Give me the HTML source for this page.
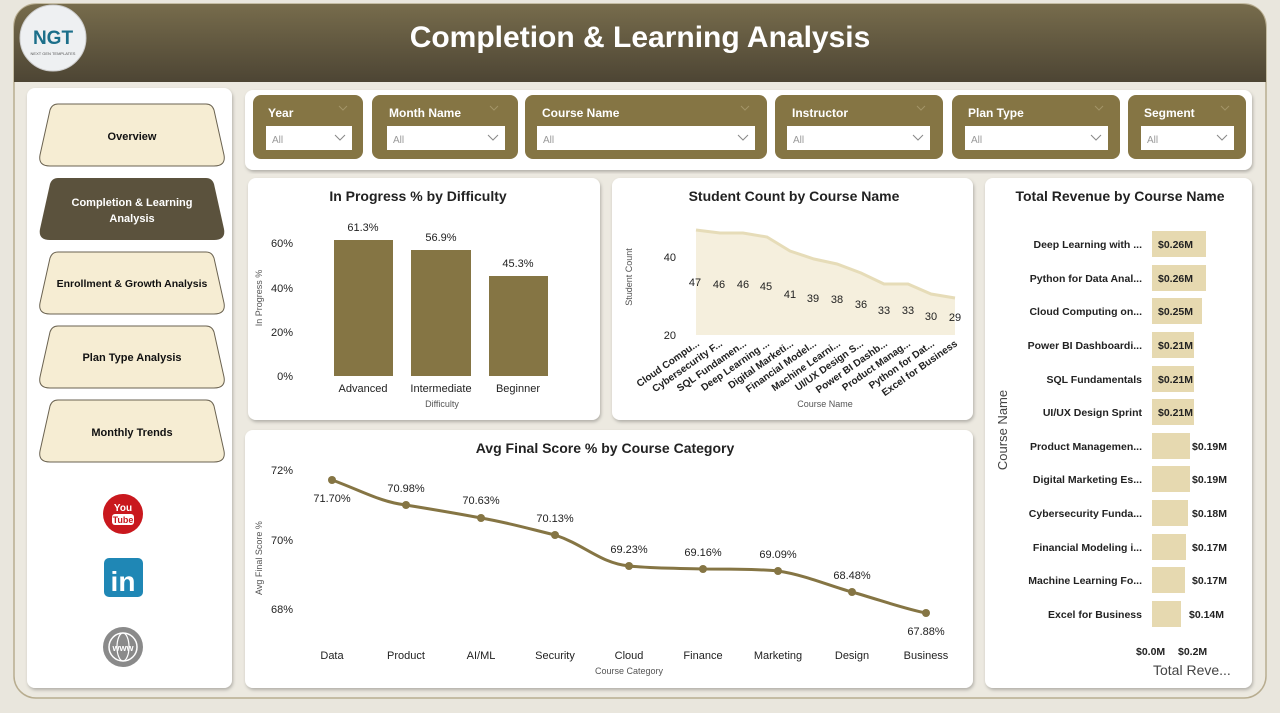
<!DOCTYPE html>
<html><head><meta charset="utf-8"><style>
body{margin:0;background:#e9e6dd;font-family:"Liberation Sans",sans-serif;}
svg text{font-family:"Liberation Sans",sans-serif;}
</style></head><body>
<svg width="1280" height="708" viewBox="0 0 1280 708" xmlns="http://www.w3.org/2000/svg">
<defs>
<linearGradient id="hg" x1="0" y1="0" x2="0" y2="1"><stop offset="0" stop-color="#776c4c"/><stop offset="1" stop-color="#4d4534"/></linearGradient>
<filter id="sh" x="-5%" y="-5%" width="110%" height="110%"><feDropShadow dx="1" dy="2" stdDeviation="1.5" flood-color="#000" flood-opacity="0.25"/></filter>
</defs>
<rect width="1280" height="708" fill="#e9e6dd"/>
<rect x="14" y="4" width="1252" height="694" rx="22" fill="#ece9e0" stroke="#b8ad90" stroke-width="1.5"/>
<path d="M14 30 Q14 4 40 4 H1240 Q1266 4 1266 30 V82 H14Z" fill="url(#hg)"/>
<text x="640" y="47" text-anchor="middle" font-size="30" font-weight="bold" fill="#fff">Completion &amp; Learning Analysis</text>
<circle cx="53" cy="38" r="33" fill="#eef0f2" stroke="#ccc"/>
<text x="53" y="44" text-anchor="middle" font-size="19" font-weight="bold" fill="#1c6f8a">NGT</text>
<text x="53" y="55" text-anchor="middle" font-size="4" fill="#555">NEXT GEN TEMPLATES</text>

<!-- sidebar -->
<rect x="27" y="88" width="205" height="600" rx="8" fill="#fff" filter="url(#sh)"/>
<g font-size="11" font-weight="bold" text-anchor="middle">
<path d="M58 104 H206 Q212 104 214 110 L224 155 Q226 166 214 166 H50 Q38 166 40 155 L50 110 Q52 104 58 104Z" fill="#f6edd3" stroke="#6a6250"/>
<text x="132" y="140" fill="#111">Overview</text>
<path d="M58 178 H206 Q212 178 214 184 L224 229 Q226 240 214 240 H50 Q38 240 40 229 L50 184 Q52 178 58 178Z" fill="#5b523d"/>
<text x="132" y="206" fill="#fff">Completion &amp; Learning</text>
<text x="132" y="222" fill="#fff">Analysis</text>
<path d="M58 252 H206 Q212 252 214 258 L224 303 Q226 314 214 314 H50 Q38 314 40 303 L50 258 Q52 252 58 252Z" fill="#f6edd3" stroke="#6a6250"/>
<text x="132" y="287" fill="#111" font-size="10.5">Enrollment &amp; Growth Analysis</text>
<path d="M58 326 H206 Q212 326 214 332 L224 377 Q226 388 214 388 H50 Q38 388 40 377 L50 332 Q52 326 58 326Z" fill="#f6edd3" stroke="#6a6250"/>
<text x="132" y="361" fill="#111">Plan Type Analysis</text>
<path d="M58 400 H206 Q212 400 214 406 L224 451 Q226 462 214 462 H50 Q38 462 40 451 L50 406 Q52 400 58 400Z" fill="#f6edd3" stroke="#6a6250"/>
<text x="132" y="436" fill="#111">Monthly Trends</text>
</g>
<circle cx="123" cy="514" r="20" fill="#c9181e"/>
<text x="123" y="511" text-anchor="middle" font-size="10" font-weight="bold" fill="#fff">You</text>
<rect x="112" y="514" width="22" height="11" rx="3" fill="#fff"/>
<text x="123" y="523" text-anchor="middle" font-size="9" font-weight="bold" fill="#c9181e">Tube</text>
<rect x="104" y="558" width="39" height="39" rx="5" fill="#1f87b5"/>
<text x="123" y="591" text-anchor="middle" font-size="28" font-weight="bold" fill="#fff">in</text>
<circle cx="123" cy="647" r="20" fill="#8a8a8a"/>
<circle cx="123" cy="647" r="14" fill="none" stroke="#fff" stroke-width="1.5"/>
<ellipse cx="123" cy="647" rx="6" ry="14" fill="none" stroke="#fff" stroke-width="1.2"/>
<text x="123" y="651" text-anchor="middle" font-size="9" font-weight="bold" fill="#fff">www</text>

<!-- filter panel -->
<rect x="245" y="90" width="1007" height="80" rx="8" fill="#fff" filter="url(#sh)"/>
<g font-size="12" font-weight="bold">
<g><rect x="253" y="95" width="110" height="64" rx="8" fill="#857544"/><text x="268" y="117" fill="#fff">Year</text><rect x="266" y="126" width="86" height="24" fill="#fff"/><text x="272" y="143" font-size="10" font-weight="normal" fill="#999">All</text></g>
<g><rect x="372" y="95" width="146" height="64" rx="8" fill="#857544"/><text x="389" y="117" fill="#fff">Month Name</text><rect x="387" y="126" width="118" height="24" fill="#fff"/><text x="393" y="143" font-size="10" font-weight="normal" fill="#999">All</text></g>
<g><rect x="525" y="95" width="242" height="64" rx="8" fill="#857544"/><text x="542" y="117" fill="#fff">Course Name</text><rect x="537" y="126" width="218" height="24" fill="#fff"/><text x="543" y="143" font-size="10" font-weight="normal" fill="#999">All</text></g>
<g><rect x="775" y="95" width="168" height="64" rx="8" fill="#857544"/><text x="792" y="117" fill="#fff">Instructor</text><rect x="787" y="126" width="143" height="24" fill="#fff"/><text x="793" y="143" font-size="10" font-weight="normal" fill="#999">All</text></g>
<g><rect x="952" y="95" width="168" height="64" rx="8" fill="#857544"/><text x="968" y="117" fill="#fff">Plan Type</text><rect x="965" y="126" width="143" height="24" fill="#fff"/><text x="971" y="143" font-size="10" font-weight="normal" fill="#999">All</text></g>
<g><rect x="1128" y="95" width="118" height="64" rx="8" fill="#857544"/><text x="1144" y="117" fill="#fff">Segment</text><rect x="1141" y="126" width="93" height="24" fill="#fff"/><text x="1147" y="143" font-size="10" font-weight="normal" fill="#999">All</text></g>
</g>
<g fill="none" stroke="#888" stroke-width="1">
<path d="M335 135 l5 5 l5 -5"/><path d="M488 135 l5 5 l5 -5"/><path d="M738 135 l5 5 l5 -5"/><path d="M913 135 l5 5 l5 -5"/><path d="M1091 135 l5 5 l5 -5"/><path d="M1217 135 l5 5 l5 -5"/>
</g>
<g fill="none" stroke="#a39468" stroke-width="1">
<path d="M339 106 l4 4 l4 -4"/><path d="M490 106 l4 4 l4 -4"/><path d="M741 106 l4 4 l4 -4"/><path d="M917 106 l4 4 l4 -4"/><path d="M1095 106 l4 4 l4 -4"/><path d="M1221 106 l4 4 l4 -4"/>
</g>

<!-- chart 1 -->
<rect x="248" y="178" width="352" height="242" rx="8" fill="#fff" filter="url(#sh)"/>
<text x="418" y="201" text-anchor="middle" font-size="14" font-weight="bold" fill="#222">In Progress % by Difficulty</text>
<g font-size="11" fill="#222" text-anchor="end"><text x="293" y="247">60%</text><text x="293" y="292">40%</text><text x="293" y="336">20%</text><text x="293" y="380">0%</text></g>
<text transform="translate(262,298) rotate(-90)" text-anchor="middle" font-size="9" fill="#555">In Progress %</text>
<rect x="334" y="240" width="59" height="136" fill="#857544"/>
<rect x="411" y="250" width="60" height="126" fill="#857544"/>
<rect x="489" y="276" width="59" height="100" fill="#857544"/>
<g font-size="11" fill="#222" text-anchor="middle"><text x="363" y="231">61.3%</text><text x="441" y="241">56.9%</text><text x="518" y="267">45.3%</text>
<text x="363" y="392">Advanced</text><text x="441" y="392">Intermediate</text><text x="518" y="392">Beginner</text></g>
<text x="442" y="407" text-anchor="middle" font-size="9" fill="#555">Difficulty</text>

<!-- chart 2 -->
<rect x="612" y="178" width="361" height="242" rx="8" fill="#fff" filter="url(#sh)"/>
<text x="794" y="201" text-anchor="middle" font-size="14" font-weight="bold" fill="#222">Student Count by Course Name</text>
<path d="M696 230 L720 233 L743 233 L767 237 L790 251 L814 259 L837 264 L861 273 L884 284 L908 284 L931 294 L955 298 L955 335 L696 335Z" fill="#f5efdd"/>
<path d="M696 230 L720 233 L743 233 L767 237 L790 251 L814 259 L837 264 L861 273 L884 284 L908 284 L931 294 L955 298" fill="none" stroke="#e6dcb8" stroke-width="3"/>
<g font-size="11" fill="#222" text-anchor="end"><text x="676" y="261">40</text><text x="676" y="339">20</text></g>
<text transform="translate(632,277) rotate(-90)" text-anchor="middle" font-size="9" fill="#555">Student Count</text>
<g font-size="11" fill="#222" text-anchor="middle"><text x="695" y="286">47</text><text x="719" y="288">46</text><text x="743" y="288">46</text><text x="766" y="290">45</text><text x="790" y="298">41</text><text x="813" y="302">39</text><text x="837" y="303">38</text><text x="861" y="308">36</text><text x="884" y="314">33</text><text x="908" y="314">33</text><text x="931" y="320">30</text><text x="955" y="321">29</text></g>
<g font-size="10" font-weight="bold" fill="#222" text-anchor="end">
<text transform="translate(700,345) rotate(-35)">Cloud Compu...</text>
<text transform="translate(723,345) rotate(-35)">Cybersecurity F...</text>
<text transform="translate(747,345) rotate(-35)">SQL Fundamen...</text>
<text transform="translate(770,345) rotate(-35)">Deep Learning ...</text>
<text transform="translate(794,345) rotate(-35)">Digital Marketi...</text>
<text transform="translate(817,345) rotate(-35)">Financial Model...</text>
<text transform="translate(841,345) rotate(-35)">Machine Learni...</text>
<text transform="translate(864,345) rotate(-35)">UI/UX Design S...</text>
<text transform="translate(888,345) rotate(-35)">Power BI Dashb...</text>
<text transform="translate(911,345) rotate(-35)">Product Manag...</text>
<text transform="translate(935,345) rotate(-35)">Python for Dat...</text>
<text transform="translate(958,345) rotate(-35)">Excel for Business</text>
</g>
<text x="825" y="407" text-anchor="middle" font-size="9" fill="#555">Course Name</text>

<!-- chart 3 revenue -->
<rect x="985" y="178" width="267" height="510" rx="8" fill="#fff" filter="url(#sh)"/>
<text x="1120" y="201" text-anchor="middle" font-size="14" font-weight="bold" fill="#222">Total Revenue by Course Name</text>
<text transform="translate(1007,430) rotate(-90)" text-anchor="middle" font-size="13" fill="#444">Course Name</text>
<g font-size="10.5" font-weight="bold" fill="#222">
<rect x="1152" y="231" width="54" height="26" fill="#e6d9b0"/><text x="1142" y="248" text-anchor="end">Deep Learning with ...</text><text x="1158" y="248">$0.26M</text>
<rect x="1152" y="265" width="54" height="26" fill="#e6d9b0"/><text x="1142" y="282" text-anchor="end">Python for Data Anal...</text><text x="1158" y="282">$0.26M</text>
<rect x="1152" y="298" width="50" height="26" fill="#e6d9b0"/><text x="1142" y="315" text-anchor="end">Cloud Computing on...</text><text x="1158" y="315">$0.25M</text>
<rect x="1152" y="332" width="42" height="26" fill="#e6d9b0"/><text x="1142" y="349" text-anchor="end">Power BI Dashboardi...</text><text x="1158" y="349">$0.21M</text>
<rect x="1152" y="366" width="42" height="26" fill="#e6d9b0"/><text x="1142" y="383" text-anchor="end">SQL Fundamentals</text><text x="1158" y="383">$0.21M</text>
<rect x="1152" y="399" width="42" height="26" fill="#e6d9b0"/><text x="1142" y="416" text-anchor="end">UI/UX Design Sprint</text><text x="1158" y="416">$0.21M</text>
<rect x="1152" y="433" width="38" height="26" fill="#e6d9b0"/><text x="1142" y="450" text-anchor="end">Product Managemen...</text><text x="1192" y="450">$0.19M</text>
<rect x="1152" y="466" width="38" height="26" fill="#e6d9b0"/><text x="1142" y="483" text-anchor="end">Digital Marketing Es...</text><text x="1192" y="483">$0.19M</text>
<rect x="1152" y="500" width="36" height="26" fill="#e6d9b0"/><text x="1142" y="517" text-anchor="end">Cybersecurity Funda...</text><text x="1192" y="517">$0.18M</text>
<rect x="1152" y="534" width="34" height="26" fill="#e6d9b0"/><text x="1142" y="551" text-anchor="end">Financial Modeling i...</text><text x="1192" y="551">$0.17M</text>
<rect x="1152" y="567" width="33" height="26" fill="#e6d9b0"/><text x="1142" y="584" text-anchor="end">Machine Learning Fo...</text><text x="1192" y="584">$0.17M</text>
<rect x="1152" y="601" width="29" height="26" fill="#e6d9b0"/><text x="1142" y="618" text-anchor="end">Excel for Business</text><text x="1189" y="618">$0.14M</text>
<text x="1136" y="655">$0.0M</text><text x="1178" y="655">$0.2M</text>
</g>
<text x="1153" y="675" font-size="14" fill="#444">Total Reve...</text>

<!-- chart 4 -->
<rect x="245" y="430" width="728" height="258" rx="8" fill="#fff" filter="url(#sh)"/>
<text x="605" y="453" text-anchor="middle" font-size="14" font-weight="bold" fill="#222">Avg Final Score % by Course Category</text>
<g font-size="11" fill="#222" text-anchor="end"><text x="293" y="474">72%</text><text x="293" y="544">70%</text><text x="293" y="613">68%</text></g>
<text transform="translate(262,558) rotate(-90)" text-anchor="middle" font-size="9" fill="#555">Avg Final Score %</text>
<path d="M332 480 C360 490 380 502 406 505 C430 509 455 513 481 518 C510 523 530 529 555 535 C585 545 600 563 629 566 C660 569 680 568 703 569 C730 569 760 569 778 571 C805 575 830 586 852 592 C880 600 905 609 926 613" fill="none" stroke="#857544" stroke-width="3"/>
<g fill="#857544"><circle cx="332" cy="480" r="4"/><circle cx="406" cy="505" r="4"/><circle cx="481" cy="518" r="4"/><circle cx="555" cy="535" r="4"/><circle cx="629" cy="566" r="4"/><circle cx="703" cy="569" r="4"/><circle cx="778" cy="571" r="4"/><circle cx="852" cy="592" r="4"/><circle cx="926" cy="613" r="4"/></g>
<g font-size="11" fill="#222" text-anchor="middle">
<text x="332" y="502">71.70%</text><text x="406" y="492">70.98%</text><text x="481" y="504">70.63%</text><text x="555" y="522">70.13%</text><text x="629" y="553">69.23%</text><text x="703" y="556">69.16%</text><text x="778" y="558">69.09%</text><text x="852" y="579">68.48%</text><text x="926" y="635">67.88%</text>
<text x="332" y="659">Data</text><text x="406" y="659">Product</text><text x="481" y="659">AI/ML</text><text x="555" y="659">Security</text><text x="629" y="659">Cloud</text><text x="703" y="659">Finance</text><text x="778" y="659">Marketing</text><text x="852" y="659">Design</text><text x="926" y="659">Business</text>
</g>
<text x="629" y="674" text-anchor="middle" font-size="9" fill="#555">Course Category</text>
</svg>
</body></html>
